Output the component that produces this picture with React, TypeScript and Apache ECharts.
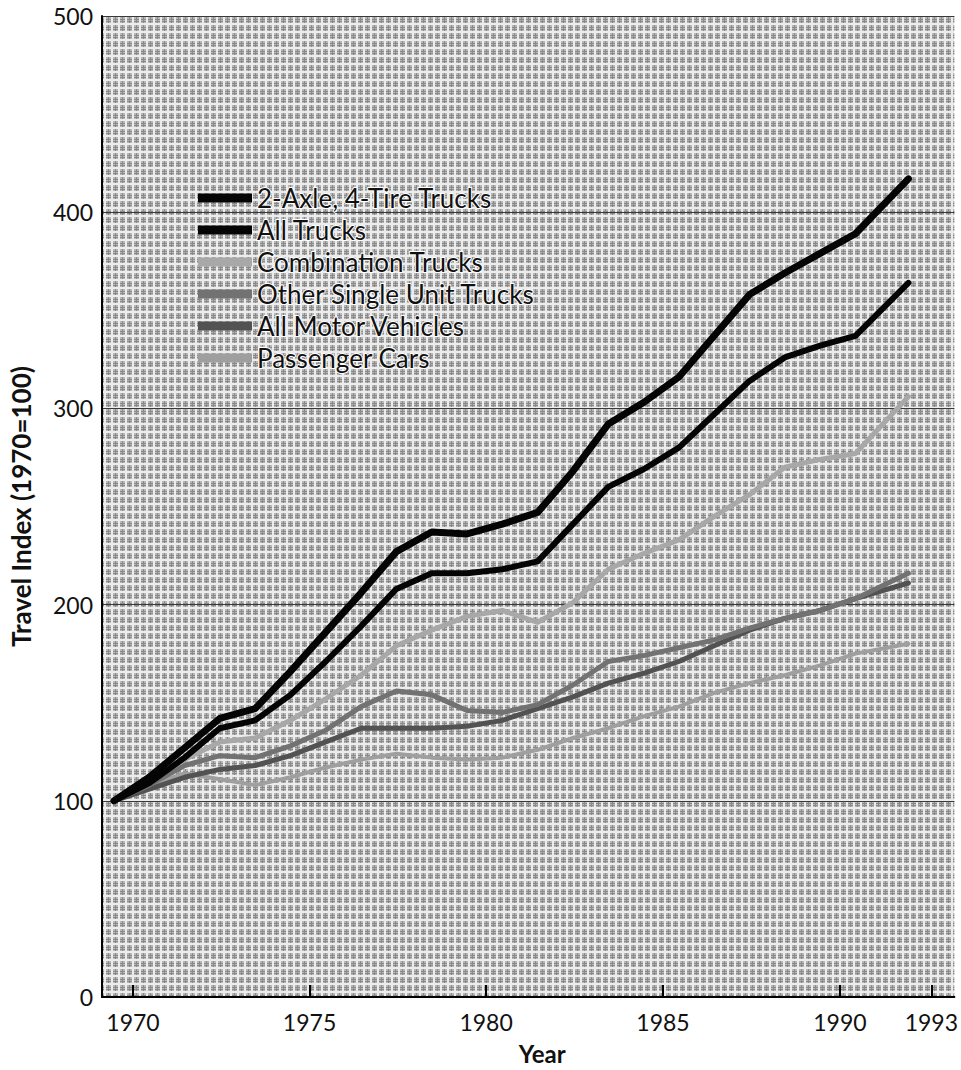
import React, { useEffect, useRef } from "react";
import * as echarts from "echarts";

// Data positions along the year axis (the last plotted vertex sits midway between 1992 and 1993 in the original drawing)
const yearPositions = [
  1970, 1971, 1972, 1973, 1974, 1975, 1976, 1977, 1978, 1979, 1980, 1981,
  1982, 1983, 1984, 1985, 1986, 1987, 1988, 1989, 1990, 1991, 1992.5,
];

const twoAxle = [100, 112, 127, 142, 147, 166, 186, 206, 227, 237, 236, 241, 247, 268, 292, 303, 316, 337, 358, 369, 379, 389, 417];
const allTrucks = [100, 109, 122, 137, 141, 154, 171, 189, 208, 216, 216, 218, 222, 241, 260, 269, 280, 297, 314, 326, 332, 337, 364];
const combination = [100, 110, 121, 130, 132, 141, 152, 164, 179, 187, 194, 197, 191, 201, 218, 226, 233, 245, 256, 270, 274, 277, 306];
const otherSingle = [100, 108, 118, 123, 122, 128, 136, 148, 156, 154, 146, 145, 149, 159, 171, 174, 178, 182, 188, 193, 197, 203, 216];
const allMotor = [100, 106, 112, 116, 118, 123, 130, 137, 137, 137, 138, 141, 147, 153, 160, 165, 171, 179, 187, 193, 197, 203, 211];
const passenger = [100, 108, 114, 111, 108, 112, 117, 121, 124, 122, 121, 122, 126, 132, 137, 143, 148, 155, 160, 164, 169, 175, 180];

const seriesNames = [
  "2-Axle, 4-Tire Trucks",
  "All Trucks",
  "Combination Trucks",
  "Other Single Unit Trucks",
  "All Motor Vehicles",
  "Passenger Cars",
];

// Tick marks as drawn in the original (offset about half a year from the plotted vertices)
const xTickPositions = [1970.54, 1975.54, 1980.54, 1985.55, 1990.56, 1993.15];
const xTickLabels = ["1970", "1975", "1980", "1985", "1990", "1993"];

const yTicks = { min: 0, max: 500, interval: 100 };

export default function App() {
  const ref = useRef<HTMLDivElement>(null);

  useEffect(() => {
    document.body.style.margin = "0";
    const el = ref.current!;
    const chart = echarts.init(el, null, { renderer: "svg" });

    const canvas = document.createElement("canvas");
    canvas.width = 7;
    canvas.height = 8;
    const ctx = canvas.getContext("2d")!;
    ctx.fillStyle = "#ececec";
    ctx.fillRect(0, 0, 7, 8);
    ctx.fillStyle = "#b8b8b8";
    ctx.fillRect(1, 1, 5, 6);
    ctx.fillStyle = "#8a8a8a";
    ctx.fillRect(3, 1, 1, 6);
    ctx.fillRect(1, 3, 5, 1);
    ctx.fillRect(1, 5, 5, 1);

    const seriesData = [twoAxle, allTrucks, combination, otherSingle, allMotor, passenger];
    const colors = ["#050505", "#050505", "#a8a8a8", "#727272", "#525252", "#9f9f9f"];
    const widths = [7, 6, 5, 5, 5, 4];

    const series: any[] = [];
    for (let i = seriesNames.length - 1; i >= 0; i--) {
      series.push({
        name: seriesNames[i],
        type: "line",
        data: yearPositions.map((x, j) => [x, seriesData[i][j]]),
        symbol: "none",
        smooth: false,
        color: colors[i],
        lineStyle: { color: colors[i], width: widths[i], join: "round", cap: "round" },
        z: 10 - i,
      });
    }

    const fontFamily = "Lato, 'Open Sans', sans-serif";

    chart.setOption({
      animation: false,
      backgroundColor: "#ffffff",
      grid: {
        left: 101,
        right: 3,
        top: 16,
        bottom: 70,
        show: true,
        borderWidth: 0,
        backgroundColor: { image: canvas, repeat: "repeat", imageWidth: 7, imageHeight: 8 },
      },
      legend: {
        orient: "vertical",
        left: 198,
        top: 184,
        padding: 0,
        itemWidth: 54,
        itemHeight: 9,
        itemGap: 4,
        icon: "rect",
        data: seriesNames.map((n, i) => ({ name: n, itemStyle: { color: colors[i] } })),
        textStyle: {
          fontFamily,
          fontSize: 26,
          lineHeight: 26,
          color: "#111",
          textBorderColor: "#ffffff",
          textBorderWidth: 2,
        },
        selectedMode: false,
      },
      xAxis: {
        type: "value",
        min: 1969.662,
        max: 1993.803,
        name: "Year",
        nameLocation: "middle",
        nameGap: 44,
        nameTextStyle: { fontFamily, fontWeight: "bold", fontSize: 24, color: "#111", padding: [0, 0, 0, 28] },
        axisLine: { show: true, onZero: false, lineStyle: { color: "#000", width: 2 } },
        axisTick: {
          show: true,
          inside: true,
          length: 12,
          lineStyle: { color: "#000", width: 2 },
          customValues: xTickPositions,
        },
        axisLabel: {
          customValues: xTickPositions,
          formatter: (v: number) => {
            const idx = xTickPositions.findIndex((p) => Math.abs(p - v) < 0.01);
            return idx >= 0 ? xTickLabels[idx] : "";
          },
          fontFamily,
          fontSize: 23,
          color: "#111",
          margin: 13,
        },
        splitLine: { show: false },
      },
      yAxis: {
        type: "value",
        min: yTicks.min,
        max: yTicks.max,
        interval: yTicks.interval,
        name: "Travel Index (1970=100)",
        nameLocation: "middle",
        nameGap: 68,
        nameTextStyle: { fontFamily, fontWeight: "bold", fontSize: 26, color: "#111" },
        axisLine: { show: true, lineStyle: { color: "#000", width: 2 } },
        axisTick: { show: false },
        axisLabel: { fontFamily, fontSize: 23, color: "#111", margin: 9 },
        splitLine: { show: true, lineStyle: { color: "#3a3a3a", width: 1 } },
      },
      series,
    });

    return () => chart.dispose();
  }, []);

  return <div ref={ref} style={{ width: 961, height: 1070 }} />;
}
